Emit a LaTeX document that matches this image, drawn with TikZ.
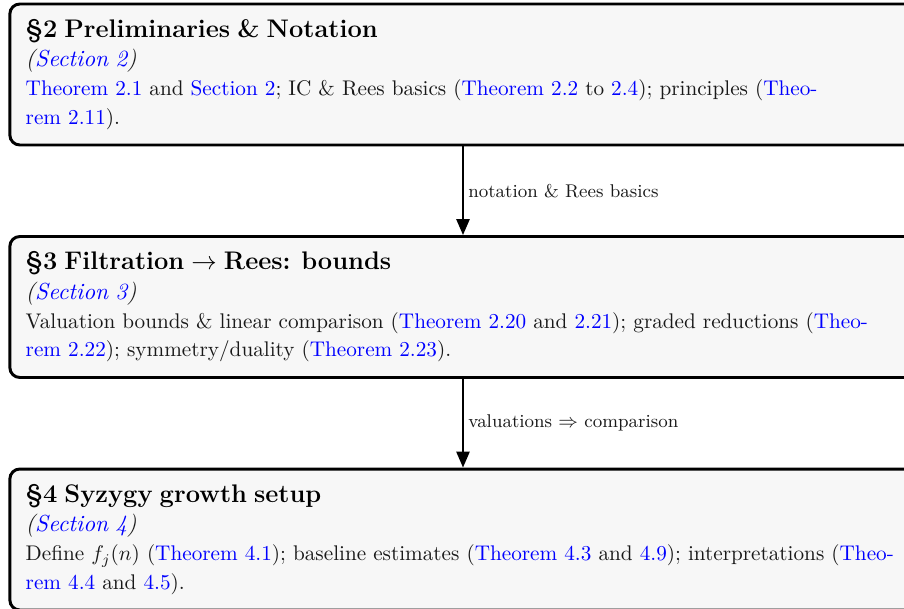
\documentclass[tikz,border=0pt]{standalone}
\usetikzlibrary{arrows.meta}
\newcommand{\lnk}[1]{\textcolor{blue}{#1}}
\newcommand{\boxtitle}[1]{{\color{black}\fontsize{12}{14}\selectfont\bfseries #1}}
\newcommand{\boxsec}[1]{{\fontsize{10.95}{13.5}\selectfont\itshape(\lnk{#1})}}
\begin{document}
\begin{tikzpicture}[x=0.4717pt,y=-0.4717pt,
  secbox/.style={draw=black, line width=1.4pt, rounded corners=4.7pt, fill=black!3,
    text width=412.5pt, minimum height=66.5pt, inner xsep=7.5pt, inner ysep=4pt,
    align=left, font=\fontsize{10}{13.5}\selectfont, text=black!90},
  flow/.style={-{Triangle[length=7.5pt,width=6.2pt]}, line width=1pt},
  flowlabel/.style={right, font=\fontsize{8.7}{10.5}\selectfont, inner sep=2pt, text=black!90}]
\useasboundingbox (0,0) rectangle (904,608);
\node[secbox] (s2) at (463,74.5) {\boxtitle{\S2 Preliminaries \& Notation}\\[0.4pt]
\boxsec{Section~2}\\[0.2pt]
\lnk{Theorem~2.1} and \lnk{Section~2}; IC \& Rees basics (\lnk{Theorem~2.2} to \lnk{2.4}); principles (\lnk{Theorem~2.11}).};
\node[secbox] (s3) at (463,307) {\boxtitle{\S3 Filtration $\rightarrow$ Rees: bounds}\\[0.4pt]
\boxsec{Section~3}\\[0.2pt]
Valuation bounds \& linear comparison (\lnk{Theorem~2.20} and \lnk{2.21}); graded reductions (\lnk{Theorem~2.22}); symmetry/duality (\lnk{Theorem~2.23}).};
\node[secbox] (s4) at (463,539.5) {\boxtitle{\S4 Syzygy growth setup}\\[0.4pt]
\boxsec{Section~4}\\[0.2pt]
Define $f_j(n)$ (\lnk{Theorem~4.1}); baseline estimates (\lnk{Theorem~4.3} and \lnk{4.9}); interpretations (\lnk{Theorem~4.4} and \lnk{4.5}).};
\draw[flow] (s2.south) -- node[flowlabel] {notation \& Rees basics} (s3.north);
\draw[flow] (s3.south) -- node[flowlabel] {valuations $\Rightarrow$ comparison} (s4.north);
\end{tikzpicture}
\end{document}
